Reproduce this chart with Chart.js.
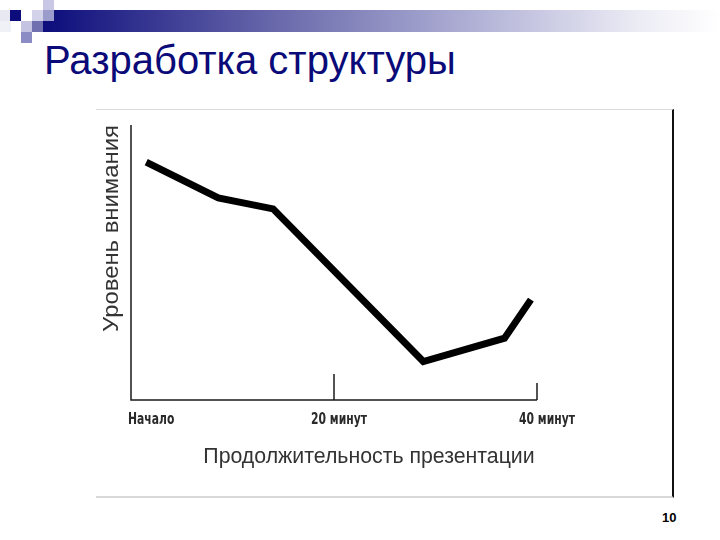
<!DOCTYPE html>
<html lang="ru">
<head>
<meta charset="utf-8">
<title>Разработка структуры</title>
<script src="https://cdn.jsdelivr.net/npm/chart.js@4.4.1/dist/chart.umd.min.js"></script>
<style>
    html, body { margin: 0; padding: 0; background: #fff; }
    #slide { position: relative; width: 720px; height: 540px; overflow: hidden; background: #fff; }
    .sq { position: absolute; width: 11px; height: 11px; }
    #bar {
        position: absolute; left: 43px; top: 10px; width: 677px; height: 22px;
        background: linear-gradient(to right, #0c0c7c 0%, #6a6aac 35%, #b4b4d8 65%, #ececf5 88%, #ffffff 100%);
    }
    #title {
        position: absolute; left: 44px; top: 38px; margin: 0;
        font-family: 'Liberation Sans', Arial, sans-serif; font-weight: normal;
        font-size: 40px; color: #0a0a78; white-space: nowrap;
    }
    #frame {
        position: absolute; left: 96px; top: 109px; width: 576px; height: 386px;
        border-top: 1px solid #d9d9d9; border-bottom: 2px solid #d9d9d9; border-right: 2px solid #111;
    }
    #page {
        position: absolute; left: 662px; top: 510px;
        font-family: 'Liberation Sans', Arial, sans-serif; font-weight: bold; font-size: 13px; color: #000;
    }
    #chart { position: absolute; left: 0; top: 0; }
</style>
</head>
<body>
<div id="slide">
    <div id="bar"></div>
    <div class="sq" style="left:43px; top:0; background:#c8c8e6"></div>
    <div class="sq" style="left:0; top:10px; background:#e8e8f3"></div>
    <div class="sq" style="left:10px; top:10px; background:#0c0c7c"></div>
    <div class="sq" style="left:32px; top:10px; background:#d2d2ea"></div>
    <div class="sq" style="left:43px; top:10px; background:#9c9ccc"></div>
    <div class="sq" style="left:0; top:21px; background:#f0f0f7"></div>
    <div class="sq" style="left:21px; top:21px; background:#c4c4e2"></div>
    <div class="sq" style="left:32px; top:21px; background:#7070b0"></div>
    <div class="sq" style="left:21px; top:32px; background:#8c8cc4"></div>
    <h1 id="title">Разработка структуры</h1>
    <div id="frame"></div>
    <div id="page">10</div>
    <canvas id="chart" width="720" height="540"></canvas>
</div>
<script>
// Chart data
const minutes = [1.5, 8.6, 14.0, 28.8, 36.8, 39.4];
const attention = [86.5, 73.5, 69.5, 14, 22.5, 36.5];
const tickValues = [0, 20, 40];
const tickLabels = ['Начало', '20 минут', '40 минут'];
const xTitle = 'Продолжительность презентации';
const yTitle = 'Уровень внимания';

// write text squeezed / stretched horizontally (the scanned figure uses a narrow face)
function drawText(ctx, text, x, y, sx) {
    ctx.save();
    ctx.translate(x, y);
    ctx.scale(sx, 1);
    ctx.fillText(text, 0, 0);
    ctx.restore();
}

// Draws the hand-made looking axes: lines, inner tick marks, labels, titles
const slideAxes = {
    id: 'slideAxes',
    afterDatasetsDraw(chart, args, opts) {
        const { ctx, chartArea } = chart;
        const x = chart.scales.x;
        const { left, right, top, bottom } = chartArea;

        ctx.save();
        ctx.strokeStyle = '#1a1a1a';
        ctx.lineWidth = 1.5;
        ctx.beginPath();
        ctx.moveTo(left, top);
        ctx.lineTo(left, bottom);
        ctx.lineTo(right, bottom);
        ctx.stroke();

        // tick marks pointing up into the plot
        tickValues.forEach((v, i) => {
            if (i === 0) return;
            const px = x.getPixelForValue(v);
            ctx.beginPath();
            ctx.moveTo(px, bottom);
            ctx.lineTo(px, bottom - opts.tickLengths[i]);
            ctx.stroke();
        });

        // tick labels
        ctx.fillStyle = '#2a2a2a';
        ctx.font = opts.tickFont;
        ctx.textBaseline = 'middle';
        tickValues.forEach((v, i) => {
            const px = x.getPixelForValue(v);
            if (i === 0) {
                ctx.textAlign = 'left';
                drawText(ctx, tickLabels[i], px - 3, bottom + 20, opts.tickSqueeze);
            } else {
                ctx.textAlign = 'center';
                drawText(ctx, tickLabels[i], px + opts.labelShift[i], bottom + 20, opts.tickSqueeze);
            }
        });

        // axis titles
        ctx.fillStyle = '#333';
        ctx.font = opts.titleFont;
        ctx.textAlign = 'center';
        ctx.fillText(xTitle, (left + right) / 2 + 35, bottom + 57);

        ctx.translate(left - 19, top);
        ctx.rotate(-Math.PI / 2);
        ctx.font = opts.yTitleFont;
        ctx.textAlign = 'right';
        drawText(ctx, yTitle, 0, 0, 1.085);
        ctx.restore();
    }
};

new Chart(document.getElementById('chart'), {
    type: 'line',
    data: {
        datasets: [{
            data: minutes.map((m, i) => ({ x: m, y: attention[i] })),
            borderColor: '#000',
            borderWidth: 7,
            borderJoinStyle: 'miter',
            borderCapStyle: 'butt',
            pointRadius: 0,
            tension: 0,
            fill: false,
            clip: false
        }]
    },
    options: {
        responsive: false,
        animation: false,
        events: [],
        layout: {
            padding: { left: 131, right: 183, top: 125, bottom: 140 }
        },
        plugins: {
            legend: { display: false },
            tooltip: { enabled: false },
            slideAxes: {
                tickLengths: [0, 26, 17],
                labelShift: [0, 5, 10],
                tickSqueeze: 0.8,
                tickFont: 'bold 15px "DejaVu Sans Condensed", "Liberation Sans", sans-serif',
                titleFont: '21.3px "Liberation Sans", Arial, sans-serif',
                yTitleFont: '22px "Liberation Sans", Arial, sans-serif'
            }
        },
        scales: {
            x: { type: 'linear', min: 0, max: 40, display: false },
            y: { type: 'linear', min: 0, max: 100, display: false }
        }
    },
    plugins: [slideAxes]
});
</script>
</body>
</html>
